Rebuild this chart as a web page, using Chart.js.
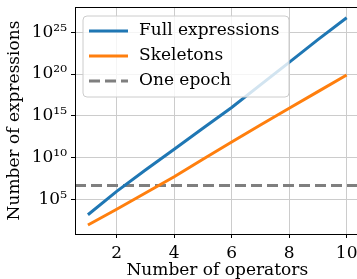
<!DOCTYPE html>
<html>
<head>
<meta charset="utf-8">
<script src="https://cdn.jsdelivr.net/npm/chart.js@4.4.1/dist/chart.umd.min.js"></script>
<style>
  html, body { margin: 0; padding: 0; background: #fff; overflow: hidden; }
  canvas { display: block; }
</style>
</head>
<body>
<canvas id="grafico" width="362" height="279"></canvas>
<script>
// Datos
const operadores = [1, 2, 3, 4, 5, 6, 7, 8, 9, 10];
const expresionesCompletas = [1.4e3, 8.9e5, 3.2e8, 1.0e11, 3.2e13, 1.0e16, 5.0e18, 2.5e21, 1.3e24, 5.6e26];
const esqueletos = [83, 6.3e3, 5.6e5, 5.0e7, 6.3e9, 7.4e11, 7.9e13, 7.9e15, 7.9e17, 7.6e19];
const unaEpoca = 4.3e6;

// Ejes
const xMin = 0.55, xMax = 10.45;
const yMin = 6.9, yMax = 1.07e28;
const xTicks = [2, 4, 6, 8, 10];
const yTicks = [1e5, 1e10, 1e15, 1e20, 1e25];
const yTickLabels = ['10⁵', '10¹⁰', '10¹⁵', '10²⁰', '10²⁵'];

const etiquetas = ['Full expressions', 'Skeletons', 'One epoch'];
const fuente = 'DejaVu Serif';

// Leyenda dibujada dentro del area del grafico, como en matplotlib
const leyendaInterna = {
    id: 'leyendaInterna',
    afterDatasetsDraw(chart) {
        const { ctx, chartArea } = chart;
        const x0 = chartArea.left + 8, y0 = chartArea.top + 9;
        const w = 206, h = 81;
        ctx.save();
        ctx.beginPath();
        ctx.roundRect(x0, y0, w, h, 4);
        ctx.fillStyle = 'rgba(255,255,255,0.8)';
        ctx.fill();
        ctx.strokeStyle = '#cccccc';
        ctx.lineWidth = 1;
        ctx.stroke();
        ctx.font = '17px "' + fuente + '"';
        ctx.textBaseline = 'middle';
        ctx.fillStyle = '#000';
        chart.data.datasets.forEach((ds, i) => {
            const y = y0 + 15 + i * 25;
            ctx.beginPath();
            ctx.setLineDash(ds.borderDash || []);
            ctx.strokeStyle = ds.borderColor;
            ctx.lineWidth = ds.borderWidth;
            ctx.moveTo(x0 + 6, y);
            ctx.lineTo(x0 + 45, y);
            ctx.stroke();
            ctx.setLineDash([]);
            ctx.fillText(ds.label, x0 + 56, y);
        });
        ctx.restore();
    }
};

// Marco completo (spine superior)
const marco = {
    id: 'marco',
    afterDatasetsDraw(chart) {
        const { ctx, chartArea } = chart;
        ctx.save();
        ctx.strokeStyle = '#000';
        ctx.lineWidth = 1;
        ctx.strokeRect(chartArea.left + 0.5, chartArea.top + 0.5,
            chartArea.right - chartArea.left, chartArea.bottom - chartArea.top);
        ctx.restore();
    }
};

new Chart(document.getElementById('grafico'), {
    type: 'line',
    data: {
        datasets: [
            {
                label: etiquetas[0],
                data: operadores.map((x, i) => ({ x, y: expresionesCompletas[i] })),
                borderColor: '#1f77b4',
                borderWidth: 3,
                pointRadius: 0
            },
            {
                label: etiquetas[1],
                data: operadores.map((x, i) => ({ x, y: esqueletos[i] })),
                borderColor: '#ff7f0e',
                borderWidth: 3,
                pointRadius: 0
            },
            {
                label: etiquetas[2],
                data: [{ x: xMin, y: unaEpoca }, { x: xMax, y: unaEpoca }],
                borderColor: '#7f7f7f',
                borderWidth: 3,
                borderDash: [11, 5],
                pointRadius: 0
            }
        ]
    },
    options: {
        responsive: false,
        animation: false,
        layout: { padding: { top: 7, right: 2.4, left: 0, bottom: 0 } },
        plugins: { legend: { display: false }, tooltip: { enabled: false } },
        scales: {
            x: {
                type: 'linear',
                min: xMin,
                max: xMax,
                afterBuildTicks: s => { s.ticks = xTicks.map(v => ({ value: v })); },
                afterFit: s => { s.height = 45; s.paddingLeft = 0; s.paddingRight = 0; },
                grid: { color: '#cccccc', lineWidth: 1, tickColor: '#000', tickLength: 4 },
                border: { color: '#000', width: 1 },
                ticks: { color: '#000', padding: 5, maxRotation: 0, font: { family: fuente, size: 17 } },
                title: {
                    display: true,
                    text: 'Number of operators',
                    color: '#000',
                    font: { family: fuente, size: 17, lineHeight: 1 },
                    padding: { top: 0, bottom: 0 }
                }
            },
            y: {
                type: 'logarithmic',
                min: yMin,
                max: yMax,
                afterBuildTicks: s => { s.ticks = yTicks.map(v => ({ value: v })); },
                afterFit: s => { s.width = 75; s.paddingTop = 0; s.paddingBottom = 0; },
                grid: { color: '#cccccc', lineWidth: 1, tickColor: '#000', tickLength: 4 },
                border: { color: '#000', width: 1 },
                ticks: {
                    color: '#000',
                    padding: 4,
                    font: { family: fuente, size: 17 },
                    callback: v => {
                        const i = yTicks.indexOf(v);
                        return i >= 0 ? yTickLabels[i] : '';
                    }
                },
                title: {
                    display: true,
                    text: 'Number of expressions',
                    color: '#000',
                    font: { family: fuente, size: 17, lineHeight: 1 },
                    padding: { top: 6, bottom: 0 }
                }
            }
        }
    },
    plugins: [leyendaInterna, marco]
});
</script>
</body>
</html>
